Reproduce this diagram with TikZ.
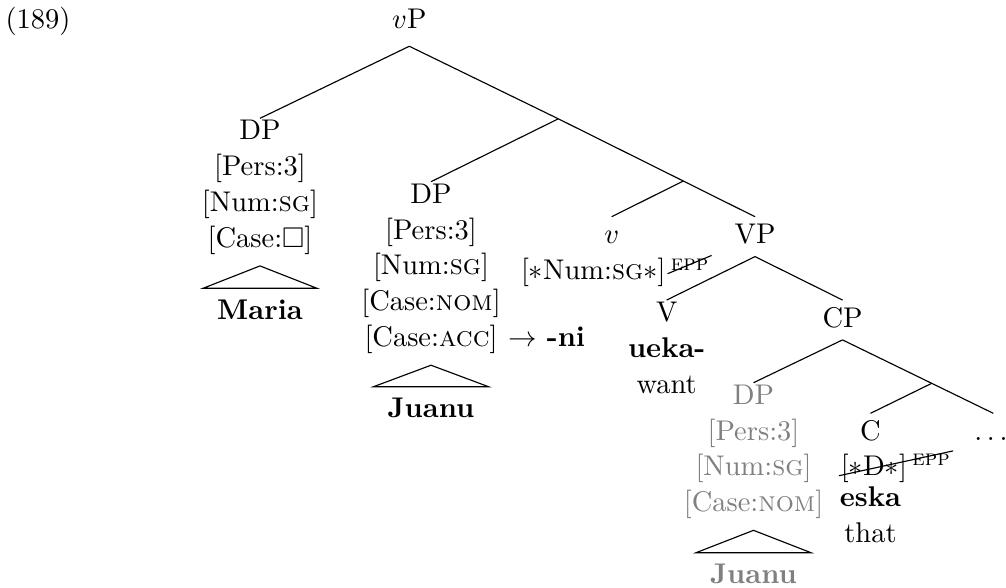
\documentclass[tikz,border=0pt]{standalone}
\usepackage{amsmath,amssymb}
\usepackage{tikz}

\tikzset{
  lab/.style={align=center, inner sep=0.5pt, font=\fontsize{10}{12.6}\selectfont,
    execute at begin node=\strut, execute at end node=\strut},
  leaf/.style={lab, font=\fontsize{10}{12.6}\selectfont\bfseries, inner xsep=4.8pt, inner ysep=1.8pt},
  feat/.style={inner sep=0.5pt},
  epp/.style={inner sep=1pt, font=\fontsize{7.8}{9}\selectfont\scshape},
  spent/.style={text=gray},
}

\begin{document}
\begin{tikzpicture}[x=0.351pt,y=-0.351pt]
\useasboundingbox (0,0) rectangle (1006,587);
\node[anchor=base west, inner sep=0pt] (ex) at (5,28.3) {(189)};
\node[lab, anchor=north] (vP) at (409.3,1.8) {$v$P};
\coordinate (j1) at (558.3,118.8);
\coordinate (j2) at (683.3,181);
\node[lab, anchor=north] (dpA) at (260,118.3) {DP\\{[Pers:3]}\\{[Num:\textsc{sg}]}\\{[Case:$\square$]}};
\node[leaf, anchor=north] (maria) at (260,288.3) {Maria};
\node[lab, anchor=north] (dpB) at (431,181.7) {DP\\{[Pers:3]}\\{[Num:\textsc{sg}]}\\{[Case:\textsc{nom}]}\\{[Case:\textsc{acc}]\rlap{\hspace{4pt}$\rightarrow$ \textbf{-ni}}}};
\node[leaf, anchor=north] (juanuB) at (431,386.7) {Juanu};
\node[lab, anchor=north] (v) at (611.7,216.7) {$v$};
\node[feat, anchor=base] (vf) at (593.3,279.4) {[$\ast$Num:\textsc{sg}$\ast$]};
\node[epp, anchor=base west, yshift=3.2pt] (vepp) at (vf.base east) {epp};
\node[lab, anchor=north] (VP) at (755,216.7) {VP};
\node[lab, anchor=north] (V) at (666.7,300) {V\\\textbf{ueka-}\\want};
\node[lab, anchor=north] (CP) at (842.5,300) {CP};
\coordinate (j3) at (931.7,383.3);
\node[lab, spent, anchor=north] (dpC) at (753.5,382.7) {DP\\{[Pers:3]}\\{[Num:\textsc{sg}]}\\{[Case:\textsc{nom}]}};
\node[leaf, spent, anchor=north] (juanuC) at (753.5,552.7) {Juanu};
\node[lab, anchor=north] (C) at (870.5,413.3) {C};
\node[feat, anchor=base] (cf) at (874,475.7) {[$\ast$D$\ast$]};
\node[epp, anchor=base west, yshift=3.5pt] (cepp) at (cf.base east) {epp};
\node[lab, anchor=north] (eska) at (870.5,485) {\textbf{eska}\\that};
\node[lab, anchor=north] (dots) at (993.3,413.3) {$\dots$};
\draw ([yshift=-1.6pt]vP.south) -- (dpA.north);
\draw ([yshift=-1.6pt]vP.south) -- (j1) -- (j2) -- (VP.north);
\draw (j1) -- (dpB.north);
\draw (j2) -- (v.north);
\draw (VP.south) -- (V.north);
\draw (VP.south) -- (CP.north);
\draw (CP.south) -- (dpC.north);
\draw (CP.south) -- (j3) -- (dots.north);
\draw (j3) -- (C.north);
\draw ([yshift=-2pt]dpA.south) -- (maria.north west) -- (maria.north east) -- cycle;
\draw ([yshift=-2pt]dpB.south) -- (juanuB.north west) -- (juanuB.north east) -- cycle;
\draw ([yshift=-2pt]dpC.south) -- (juanuC.north west) -- (juanuC.north east) -- cycle;
\draw (vepp.south west) -- (vepp.north east);
\draw (cf.base west) -- (cepp.north east);
\end{tikzpicture}
\end{document}
